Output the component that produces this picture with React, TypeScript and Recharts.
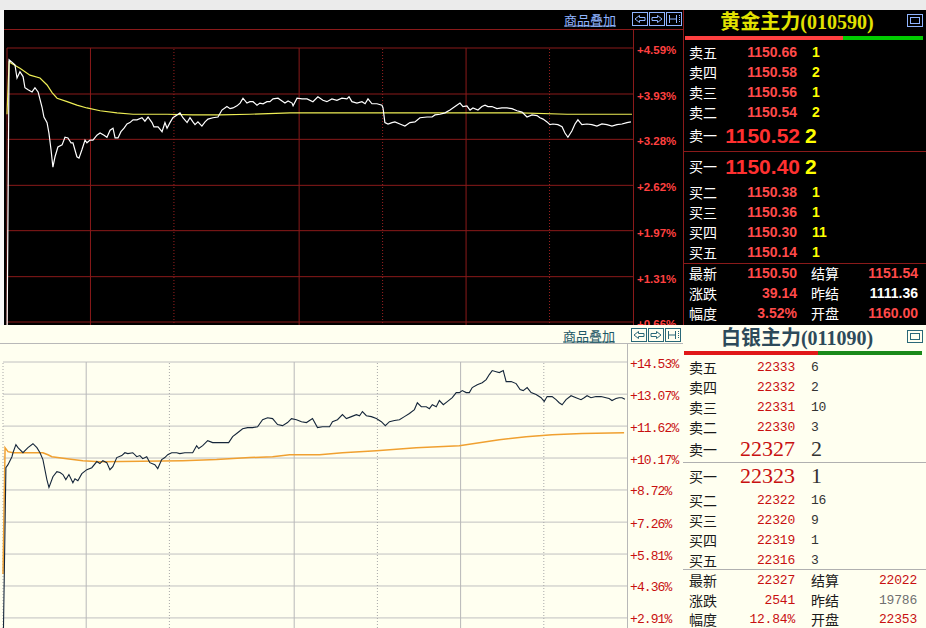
import React from 'react';
import { LineChart, Line, XAxis, YAxis, CartesianGrid, ReferenceLine } from 'recharts';

// ---------- Gold (top panel): minutes since open (0-300) and % change ----------
const goldTimes = [0, 1.0, 3.8, 4.8, 6.2, 7.7, 8.6, 10.1, 12.0, 13.4, 14.9, 16.8, 17.7, 19.2, 20.1, 21.1, 22.0, 23.0, 24.4, 26.4, 27.8, 29.2, 30.7, 31.6, 33.5, 34.5, 35.9, 37.4, 38.3, 39.8, 41.2, 43.1, 44.6, 46.5, 47.9, 49.4, 50.8, 51.8, 53.2, 54.6, 56.1, 57.5, 58.9, 60.4, 62.3, 64.7, 66.1, 67.6, 69.5, 70.4, 72.4, 74.3, 75.7, 76.7, 78.1, 79.5, 81.5, 82.9, 84.3, 86.3, 87.7, 89.1, 90.1, 91.5, 93.4, 94.9, 96.3, 98.7, 101.1, 103.0, 105.4, 106.9, 108.3, 110.2, 111.7, 113.1, 115.0, 116.4, 117.9, 119.8, 121.2, 122.7, 124.6, 126.0, 127.5, 129.9, 131.8, 133.2, 134.7, 136.6, 137.1, 139.0, 141.4, 143.8, 146.6, 149.0, 151.4, 153.3, 155.7, 158.1, 160.5, 162.9, 163.9, 165.3, 167.7, 170.1, 171.6, 173.0, 174.9, 177.3, 179.7, 180.2, 181.1, 182.6, 184.5, 185.9, 188.3, 190.7, 193.1, 195.5, 197.9, 201.3, 203.7, 205.1, 207.5, 209.9, 212.3, 214.7, 217.1, 218.5, 220.4, 221.9, 223.3, 225.7, 227.6, 229.1, 230.5, 232.4, 234.8, 237.2, 239.6, 242.0, 244.4, 246.8, 249.2, 251.6, 254.0, 255.4, 256.9, 258.8, 260.2, 261.6, 264.0, 266.0, 267.4, 268.8, 270.7, 272.2, 273.6, 275.5, 277.9, 280.3, 282.7, 285.1, 287.5, 289.9, 292.3, 294.7, 297.1, 299.0];
const goldPct = [0.3, 4.42, 4.35, 4.16, 4.25, 4.18, 4.02, 3.99, 3.96, 4.02, 3.96, 3.74, 3.60, 3.52, 3.37, 3.13, 2.88, 3.03, 3.17, 3.20, 3.31, 3.30, 3.23, 3.23, 3.03, 3.01, 3.13, 3.27, 3.23, 3.27, 3.27, 3.34, 3.37, 3.34, 3.31, 3.41, 3.44, 3.30, 3.30, 3.39, 3.44, 3.50, 3.52, 3.56, 3.56, 3.59, 3.54, 3.60, 3.52, 3.46, 3.46, 3.39, 3.52, 3.44, 3.52, 3.59, 3.63, 3.66, 3.59, 3.52, 3.59, 3.53, 3.49, 3.53, 3.47, 3.53, 3.57, 3.59, 3.60, 3.70, 3.75, 3.72, 3.73, 3.76, 3.80, 3.87, 3.80, 3.82, 3.82, 3.77, 3.80, 3.79, 3.82, 3.82, 3.86, 3.87, 3.83, 3.80, 3.83, 3.80, 3.76, 3.87, 3.86, 3.86, 3.82, 3.89, 3.84, 3.82, 3.86, 3.84, 3.87, 3.86, 3.89, 3.82, 3.80, 3.82, 3.79, 3.86, 3.79, 3.79, 3.77, 3.73, 3.52, 3.50, 3.52, 3.53, 3.50, 3.47, 3.52, 3.53, 3.59, 3.60, 3.60, 3.63, 3.64, 3.66, 3.70, 3.75, 3.80, 3.75, 3.76, 3.70, 3.73, 3.70, 3.75, 3.77, 3.75, 3.75, 3.72, 3.73, 3.73, 3.72, 3.69, 3.67, 3.60, 3.63, 3.62, 3.59, 3.57, 3.53, 3.49, 3.50, 3.49, 3.46, 3.37, 3.31, 3.40, 3.50, 3.56, 3.49, 3.50, 3.49, 3.47, 3.50, 3.49, 3.47, 3.49, 3.50, 3.52, 3.53];
const goldAvgTimes = [0, 1.0, 6.2, 11.0, 15.8, 19.2, 21.6, 24.0, 28.8, 33.5, 38.3, 44.6, 52.7, 60.4, 76.7, 89.1, 102.1, 116.4, 135.6, 188.3, 245.8, 268.4, 299.5];
const goldAvgPct = [3.64, 4.39, 4.30, 4.20, 4.16, 4.06, 3.95, 3.87, 3.82, 3.77, 3.73, 3.69, 3.66, 3.64, 3.64, 3.63, 3.63, 3.64, 3.66, 3.66, 3.66, 3.64, 3.64];
const goldTicks = [0.66, 1.31, 1.97, 2.62, 3.28, 3.93, 4.59];
const goldMax = 4.59;

// ---------- Silver (bottom panel) ----------
const silverTimes = [0, 1.4, 2.4, 4.3, 4.8, 6.2, 7.2, 9.6, 12.0, 14.4, 16.3, 17.8, 19.2, 21.1, 22.1, 24.0, 25.9, 27.4, 28.8, 30.2, 31.7, 33.6, 34.6, 36.0, 37.9, 40.3, 42.7, 45.1, 46.6, 48.0, 49.9, 51.4, 52.8, 54.7, 57.1, 58.6, 60.0, 62.4, 64.3, 65.8, 67.2, 69.1, 70.6, 73.0, 74.4, 76.3, 77.8, 79.2, 81.1, 83.5, 85.0, 87.4, 89.8, 91.2, 93.1, 94.1, 96.0, 98.4, 100.8, 104.2, 106.6, 108.5, 110.4, 112.8, 115.2, 117.6, 120.0, 122.4, 124.8, 127.2, 129.6, 132.0, 134.4, 136.8, 138.7, 141.1, 143.5, 145.9, 148.8, 151.2, 153.6, 157.0, 158.4, 160.8, 163.2, 165.1, 167.5, 169.9, 171.4, 172.8, 174.7, 177.1, 179.5, 181.9, 183.8, 185.8, 188.2, 190.6, 193.0, 195.4, 197.8, 199.2, 201.1, 203.5, 205.0, 206.4, 208.3, 209.8, 211.7, 213.6, 216.0, 217.9, 219.4, 220.8, 222.7, 224.2, 225.6, 228.0, 230.4, 232.3, 233.8, 235.2, 237.1, 238.6, 240.5, 241.9, 244.3, 246.7, 248.6, 250.1, 252.0, 253.9, 256.3, 258.7, 260.2, 261.6, 264.0, 265.9, 267.4, 268.8, 270.7, 273.1, 275.5, 277.9, 279.4, 280.8, 282.7, 285.1, 287.5, 289.9, 291.4, 292.8, 294.7, 296.2, 297.6, 299.0];
const silverPct = [1.0, 9.73, 9.87, 10.23, 10.41, 10.78, 10.64, 10.41, 10.64, 10.82, 10.64, 10.41, 10.10, 9.19, 8.83, 9.32, 9.55, 9.51, 9.42, 9.19, 9.42, 9.05, 9.23, 9.14, 9.46, 9.64, 9.73, 10.01, 9.92, 10.05, 9.96, 9.64, 9.78, 10.19, 10.28, 10.41, 10.37, 10.41, 10.23, 10.28, 10.14, 10.23, 9.96, 9.87, 9.69, 10.10, 10.19, 10.32, 10.41, 10.41, 10.37, 10.41, 10.41, 10.41, 10.73, 10.60, 10.73, 10.96, 10.87, 10.87, 10.87, 10.87, 11.14, 11.32, 11.50, 11.55, 11.55, 11.59, 11.91, 12.00, 11.96, 11.69, 11.64, 11.78, 11.96, 11.91, 11.82, 11.78, 11.96, 11.55, 11.59, 11.59, 11.82, 11.91, 12.14, 11.96, 12.05, 12.14, 12.09, 12.28, 12.09, 12.05, 11.96, 11.82, 11.64, 11.82, 11.87, 11.91, 12.05, 12.19, 12.37, 12.68, 12.50, 12.50, 12.41, 12.59, 12.50, 12.78, 12.59, 12.73, 12.91, 13.14, 13.14, 13.23, 13.14, 13.14, 13.37, 13.50, 13.59, 13.73, 13.96, 14.14, 14.09, 14.05, 14.14, 13.64, 13.64, 13.55, 13.28, 13.23, 13.37, 13.14, 13.05, 12.91, 12.73, 12.96, 12.96, 12.82, 12.68, 12.59, 12.82, 13.00, 12.91, 12.82, 12.91, 13.00, 12.91, 12.96, 12.96, 12.91, 12.87, 12.78, 12.87, 12.91, 12.91, 12.84];
const silverAvgTimes = [0, 1.0, 2.4, 4.8, 8.2, 14.4, 19.2, 21.6, 23.5, 30.7, 38.4, 46.6, 86.4, 102.7, 118.6, 129.6, 137.8, 152.2, 163.2, 179.5, 198.7, 219.4, 238.6, 251.5, 264.0, 278.4, 298.6];
const silverAvgPct = [4.9, 10.64, 10.46, 10.41, 10.41, 10.41, 10.41, 10.32, 10.23, 10.14, 10.05, 10.00, 10.05, 10.10, 10.19, 10.23, 10.32, 10.32, 10.41, 10.50, 10.64, 10.73, 11.00, 11.14, 11.23, 11.28, 11.32];
const silverTicks = [2.91, 4.36, 5.81, 7.26, 8.72, 10.17, 11.62, 13.07, 14.53];
const silverMax = 14.53;

// session boundaries (minutes)
const sessionSolid = [40, 140, 220];
const sessionDotted = [80, 180, 260];
const sessionEnd = 300;

// ---------- Quote boards ----------
const overlayLabel = '商品叠加';
const goldTitle = '黄金主力(010590)';
const goldAskLabels = ['卖五', '卖四', '卖三', '卖二', '卖一'];
const goldAskPrices = ['1150.66', '1150.58', '1150.56', '1150.54', '1150.52'];
const goldAskVols = ['1', '2', '1', '2', '2'];
const goldBidLabels = ['买一', '买二', '买三', '买四', '买五'];
const goldBidPrices = ['1150.40', '1150.38', '1150.36', '1150.30', '1150.14'];
const goldBidVols = ['2', '1', '1', '11', '1'];
const goldStatLabels = ['最新', '涨跌', '幅度'];
const goldStatValues = ['1150.50', '39.14', '3.52%'];
const goldStatLabels2 = ['结算', '昨结', '开盘'];
const goldStatValues2 = ['1151.54', '1111.36', '1160.00'];
const goldBuyRatio = 0.664;

const silverTitle = '白银主力(011090)';
const silverAskLabels = ['卖五', '卖四', '卖三', '卖二', '卖一'];
const silverAskPrices = ['22333', '22332', '22331', '22330', '22327'];
const silverAskVols = ['6', '2', '10', '3', '2'];
const silverBidLabels = ['买一', '买二', '买三', '买四', '买五'];
const silverBidPrices = ['22323', '22322', '22320', '22319', '22316'];
const silverBidVols = ['1', '16', '9', '1', '3'];
const silverStatLabels = ['最新', '涨跌', '幅度'];
const silverStatValues = ['22327', '2541', '12.84%'];
const silverStatLabels2 = ['结算', '昨结', '开盘'];
const silverStatValues2 = ['22022', '19786', '22353'];
const silverBuyRatio = 0.563;

const goldData = goldTimes.map((t, i) => ({ t, v: goldPct[i] }));
const goldAvgData = goldAvgTimes.map((t, i) => ({ t, v: goldAvgPct[i] }));
const silverData = silverTimes.map((t, i) => ({ t, v: silverPct[i] }));
const silverAvgData = silverAvgTimes.map((t, i) => ({ t, v: silverAvgPct[i] }));

const CJK = '"Noto Sans CJK SC", "Noto Sans", sans-serif';
const SANS = '"Liberation Sans", Arial, sans-serif';
const MONO = '"Liberation Mono", "DejaVu Sans Mono", monospace';
const SERIF_TITLE = '"Liberation Serif", "Noto Sans CJK SC", serif';
const SERIF = '"Liberation Serif", serif';

const pct = (v: number) => '+' + v.toFixed(2) + '%';

const Txt = ({ x, y, a = 'start', style, children }: any) => {
  const tx = a === 'start' ? '0' : a === 'end' ? '-100%' : '-50%';
  return (
    <div
      style={{
        position: 'absolute',
        left: x,
        top: y,
        transform: `translate(${tx},-50%)`,
        whiteSpace: 'nowrap',
        lineHeight: 1,
        ...style,
      }}
    >
      {children}
    </div>
  );
};

const Box = ({ x, y, w, h, bg }: any) => (
  <div style={{ position: 'absolute', left: x, top: y, width: w, height: h, background: bg }} />
);

const NavIcons = ({ x, y, color }: any) => (
  <svg style={{ position: 'absolute', left: x, top: y }} width={51} height={15}>
    <g fill="none" stroke={color} strokeWidth={1}>
      <rect x={0.5} y={0.5} width={15} height={13} />
      <rect x={17.5} y={0.5} width={15} height={13} />
      <rect x={34.5} y={0.5} width={15} height={13} />
      <path d="M3 7 L7.5 3.5 L7.5 5.5 L13 5.5 L13 8.5 L7.5 8.5 L7.5 10.5 Z" />
      <path d="M30 7 L25.5 3.5 L25.5 5.5 L20 5.5 L20 8.5 L25.5 8.5 L25.5 10.5 Z" />
      <path d="M37.5 3 L37.5 11 M37.5 7 L44.5 7 M44.5 3 L44.5 11" />
      <path d="M47.5 3 L47.5 11" strokeDasharray="1 1" />
    </g>
  </svg>
);

const MaxIcon = ({ x, y, color }: any) => (
  <svg style={{ position: 'absolute', left: x, top: y }} width={16} height={14}>
    <g fill="none" stroke={color} strokeWidth={1}>
      <rect x={0.5} y={0.5} width={15} height={12} />
      <rect x={3.5} y={3.5} width={9} height={6} />
    </g>
  </svg>
);

const makeTick = (style: any) => (props: any) => {
  const { x, y, payload } = props;
  return (
    <text x={x} y={y} dy={2} textAnchor="start" dominantBaseline="central" {...style}>
      {pct(payload.value)}
    </text>
  );
};

const goldTick = makeTick({ fill: '#ff4040', fontSize: 11.5, fontWeight: 'bold', fontFamily: SANS });
const silverTick = makeTick({ fill: '#c81010', fontSize: 13, fontFamily: MONO, letterSpacing: -0.9 });

const QuoteBoard = (p: any) => {
  const rows: any[] = [];
  p.askLabels.forEach((l: string, i: number) => {
    const big = i === 4;
    rows.push(
      <Txt key={'al' + i} x={p.labelX} y={p.askY[i]} style={p.labelStyle}>{l}</Txt>,
      <Txt key={'ap' + i} x={big ? p.bigPriceRight : p.priceRight} y={p.askY[i]} a="end" style={big ? p.bigPriceStyle : p.priceStyle}>{p.askPrices[i]}</Txt>,
      <Txt key={'av' + i} x={big ? p.bigVolX : p.volX} y={p.askY[i]} style={big ? p.bigVolStyle : p.volStyle}>{p.askVols[i]}</Txt>
    );
  });
  p.bidLabels.forEach((l: string, i: number) => {
    const big = i === 0;
    rows.push(
      <Txt key={'bl' + i} x={p.labelX} y={p.bidY[i]} style={p.labelStyle}>{l}</Txt>,
      <Txt key={'bp' + i} x={big ? p.bigPriceRight : p.priceRight} y={p.bidY[i]} a="end" style={big ? p.bigPriceStyle : p.priceStyle}>{p.bidPrices[i]}</Txt>,
      <Txt key={'bv' + i} x={big ? p.bigVolX : p.volX} y={p.bidY[i]} style={big ? p.bigVolStyle : p.volStyle}>{p.bidVols[i]}</Txt>
    );
  });
  p.statLabels.forEach((l: string, i: number) => {
    rows.push(
      <Txt key={'sl' + i} x={p.labelX} y={p.statY[i]} style={p.labelStyle}>{l}</Txt>,
      <Txt key={'sv' + i} x={p.priceRight} y={p.statY[i]} a="end" style={{ ...p.priceStyle, color: p.statColors[i] }}>{p.statValues[i]}</Txt>,
      <Txt key={'sl2' + i} x={p.stat2X} y={p.statY[i]} style={p.labelStyle}>{p.statLabels2[i]}</Txt>,
      <Txt key={'sv2' + i} x={p.stat2Right} y={p.statY[i]} a="end" style={{ ...p.priceStyle, color: p.stat2Colors[i] }}>{p.statValues2[i]}</Txt>
    );
  });
  const barW = p.barRight - p.barLeft;
  return (
    <>
      <Txt x={797} y={p.titleY} a="middle" style={{ fontFamily: SERIF_TITLE, fontWeight: 'bold', fontSize: 20, color: p.titleColor }}>{p.title}</Txt>
      <MaxIcon x={907} y={p.titleY - 8} color={p.iconColor} />
      <Box x={p.barLeft} y={p.barY} w={barW * p.ratio} h={4} bg={p.redBar} />
      <Box x={p.barLeft + barW * p.ratio} y={p.barY} w={barW * (1 - p.ratio)} h={4} bg={p.greenBar} />
      {p.sepY.map((y: number) => (
        <Box key={'sep' + y} x={683} y={y} w={243} h={1} bg={p.sepColor} />
      ))}
      {rows}
    </>
  );
};

export default function App() {
  return (
    <div
      style={{
        position: 'absolute',
        left: 0,
        top: 0,
        width: 926,
        height: 628,
        overflow: 'hidden',
        background: '#ffffff',
        fontFamily: CJK,
      }}
    >
      {/* ---- top (gold) panel frame ---- */}
      <Box x={0} y={0} w={926} h={10} bg="#ebebeb" />
      <Box x={0} y={10} w={4} h={315} bg="#f8f8f8" />
      <Box x={4} y={10} w={922} h={315} bg="#000000" />
      <Box x={4} y={29} w={679} h={1} bg="#8a1a1a" />
      <Box x={633} y={30} w={1} h={295} bg="#8a1a1a" />
      <Box x={683} y={10} w={1} h={315} bg="#8a1a1a" />
      <Txt x={564} y={19} style={{ color: '#8fb4ff', fontSize: 13, textDecoration: 'underline' }}>{overlayLabel}</Txt>
      <NavIcons x={632} y={12} color="#8fb4ff" />

      <div style={{ position: 'absolute', left: 0, top: 0, width: 683, height: 325, overflow: 'hidden' }}>
        <LineChart width={683} height={368} margin={{ top: 48, right: 0, bottom: 0, left: 7 }}>
          <CartesianGrid vertical={false} stroke="#8a1a1a" strokeWidth={1} />
          <XAxis type="number" dataKey="t" domain={[0, sessionEnd]} hide />
          <YAxis
            orientation="right"
            type="number"
            domain={[0, goldMax]}
            ticks={goldTicks}
            interval={0}
            width={50}
            axisLine={false}
            tickLine={false}
            tickSize={2}
            tickMargin={2}
            tick={goldTick}
          />
          <ReferenceLine x={0} stroke="#8a1a1a" />
          {sessionSolid.map((t) => (
            <ReferenceLine key={'gs' + t} x={t} stroke="#8a1a1a" />
          ))}
          {sessionDotted.map((t) => (
            <ReferenceLine key={'gd' + t} x={t} stroke="#9a2020" strokeDasharray="1 2" />
          ))}
          <Line data={goldAvgData} dataKey="v" type="linear" stroke="#eeee55" strokeWidth={1.2} dot={false} activeDot={false} isAnimationActive={false} />
          <Line data={goldData} dataKey="v" type="linear" stroke="#ffffff" strokeWidth={1.2} dot={false} activeDot={false} isAnimationActive={false} />
        </LineChart>
      </div>

      <QuoteBoard
        title={goldTitle}
        titleY={22}
        titleColor="#e2e200"
        iconColor="#8fb4ff"
        barLeft={685}
        barRight={923}
        barY={36}
        ratio={goldBuyRatio}
        redBar="#ff4040"
        greenBar="#00cc00"
        sepY={[151, 263]}
        sepColor="#8a1a1a"
        askLabels={goldAskLabels}
        askPrices={goldAskPrices}
        askVols={goldAskVols}
        bidLabels={goldBidLabels}
        bidPrices={goldBidPrices}
        bidVols={goldBidVols}
        statLabels={goldStatLabels}
        statValues={goldStatValues}
        statLabels2={goldStatLabels2}
        statValues2={goldStatValues2}
        statColors={['#ff4a4a', '#ff4a4a', '#ff4a4a']}
        stat2Colors={['#ff4a4a', '#ffffff', '#ff4a4a']}
        askY={[52, 72, 92, 112, 135]}
        bidY={[166, 192, 212, 232, 252]}
        statY={[273, 293, 313]}
        labelX={689}
        priceRight={797}
        bigPriceRight={800}
        volX={812}
        bigVolX={805}
        stat2X={811}
        stat2Right={918}
        labelStyle={{ color: '#ffffff', fontSize: 14, fontFamily: CJK }}
        priceStyle={{ color: '#ff4a4a', fontSize: 14, fontWeight: 'bold', fontFamily: SANS }}
        volStyle={{ color: '#ffff00', fontSize: 14, fontWeight: 'bold', fontFamily: SANS }}
        bigPriceStyle={{ color: '#ff3030', fontSize: 21, fontWeight: 'bold', fontFamily: SANS }}
        bigVolStyle={{ color: '#ffff00', fontSize: 21, fontWeight: 'bold', fontFamily: SANS }}
      />

      {/* ---- bottom (silver) panel frame ---- */}
      <Box x={0} y={325} w={926} h={303} bg="#fffff0" />
      <Box x={0} y={343} w={683} h={1} bg="#b8b8b8" />
      <Box x={627} y={343} w={1} h={285} bg="#b8b8b8" />
      <Txt x={563} y={335} style={{ color: '#1e5866', fontSize: 13, textDecoration: 'underline' }}>{overlayLabel}</Txt>
      <NavIcons x={631} y={328} color="#2a6878" />

      <div style={{ position: 'absolute', left: 0, top: 325, width: 683, height: 303, overflow: 'hidden' }}>
        <LineChart width={683} height={357} margin={{ top: 37, right: 0, bottom: 0, left: 3 }}>
          <CartesianGrid vertical={false} stroke="#c0c0c0" strokeWidth={1} />
          <XAxis type="number" dataKey="t" domain={[0, sessionEnd]} hide />
          <YAxis
            orientation="right"
            type="number"
            domain={[0, silverMax]}
            ticks={silverTicks}
            interval={0}
            width={56}
            axisLine={false}
            tickLine={false}
            tickSize={1}
            tickMargin={2}
            tick={silverTick}
          />
          <ReferenceLine x={0} stroke="#a8a8a8" strokeDasharray="1 2" />
          {sessionSolid.map((t) => (
            <ReferenceLine key={'ss' + t} x={t} stroke="#b8b8b8" />
          ))}
          {sessionDotted.map((t) => (
            <ReferenceLine key={'sd' + t} x={t} stroke="#a8a8a8" strokeDasharray="1 2" />
          ))}
          <Line data={silverAvgData} dataKey="v" type="linear" stroke="#f0a030" strokeWidth={1.5} dot={false} activeDot={false} isAnimationActive={false} />
          <Line data={silverData} dataKey="v" type="linear" stroke="#15263a" strokeWidth={1.1} dot={false} activeDot={false} isAnimationActive={false} />
        </LineChart>
      </div>

      <QuoteBoard
        title={silverTitle}
        titleY={338}
        titleColor="#2d4a5a"
        iconColor="#2a6878"
        barLeft={684}
        barRight={922}
        barY={351}
        ratio={silverBuyRatio}
        redBar="#e01818"
        greenBar="#1a8a1a"
        sepY={[462, 569]}
        sepColor="#b0b0b0"
        askLabels={silverAskLabels}
        askPrices={silverAskPrices}
        askVols={silverAskVols}
        bidLabels={silverBidLabels}
        bidPrices={silverBidPrices}
        bidVols={silverBidVols}
        statLabels={silverStatLabels}
        statValues={silverStatValues}
        statLabels2={silverStatLabels2}
        statValues2={silverStatValues2}
        statColors={['#c81010', '#c81010', '#c81010']}
        stat2Colors={['#c81010', '#707070', '#c81010']}
        askY={[367, 387, 407, 427, 449]}
        bidY={[476, 500, 520, 540, 560]}
        statY={[580, 600, 619]}
        labelX={689}
        priceRight={795}
        bigPriceRight={795}
        volX={811}
        bigVolX={811}
        stat2X={811}
        stat2Right={917}
        labelStyle={{ color: '#1a1a1a', fontSize: 14, fontFamily: CJK }}
        priceStyle={{ color: '#c81010', fontSize: 13, fontFamily: MONO, letterSpacing: -0.2 }}
        volStyle={{ color: '#333333', fontSize: 13, fontFamily: MONO, letterSpacing: -0.2 }}
        bigPriceStyle={{ color: '#c81010', fontSize: 22, fontFamily: SERIF }}
        bigVolStyle={{ color: '#333333', fontSize: 22, fontFamily: SERIF }}
      />
    </div>
  );
}
